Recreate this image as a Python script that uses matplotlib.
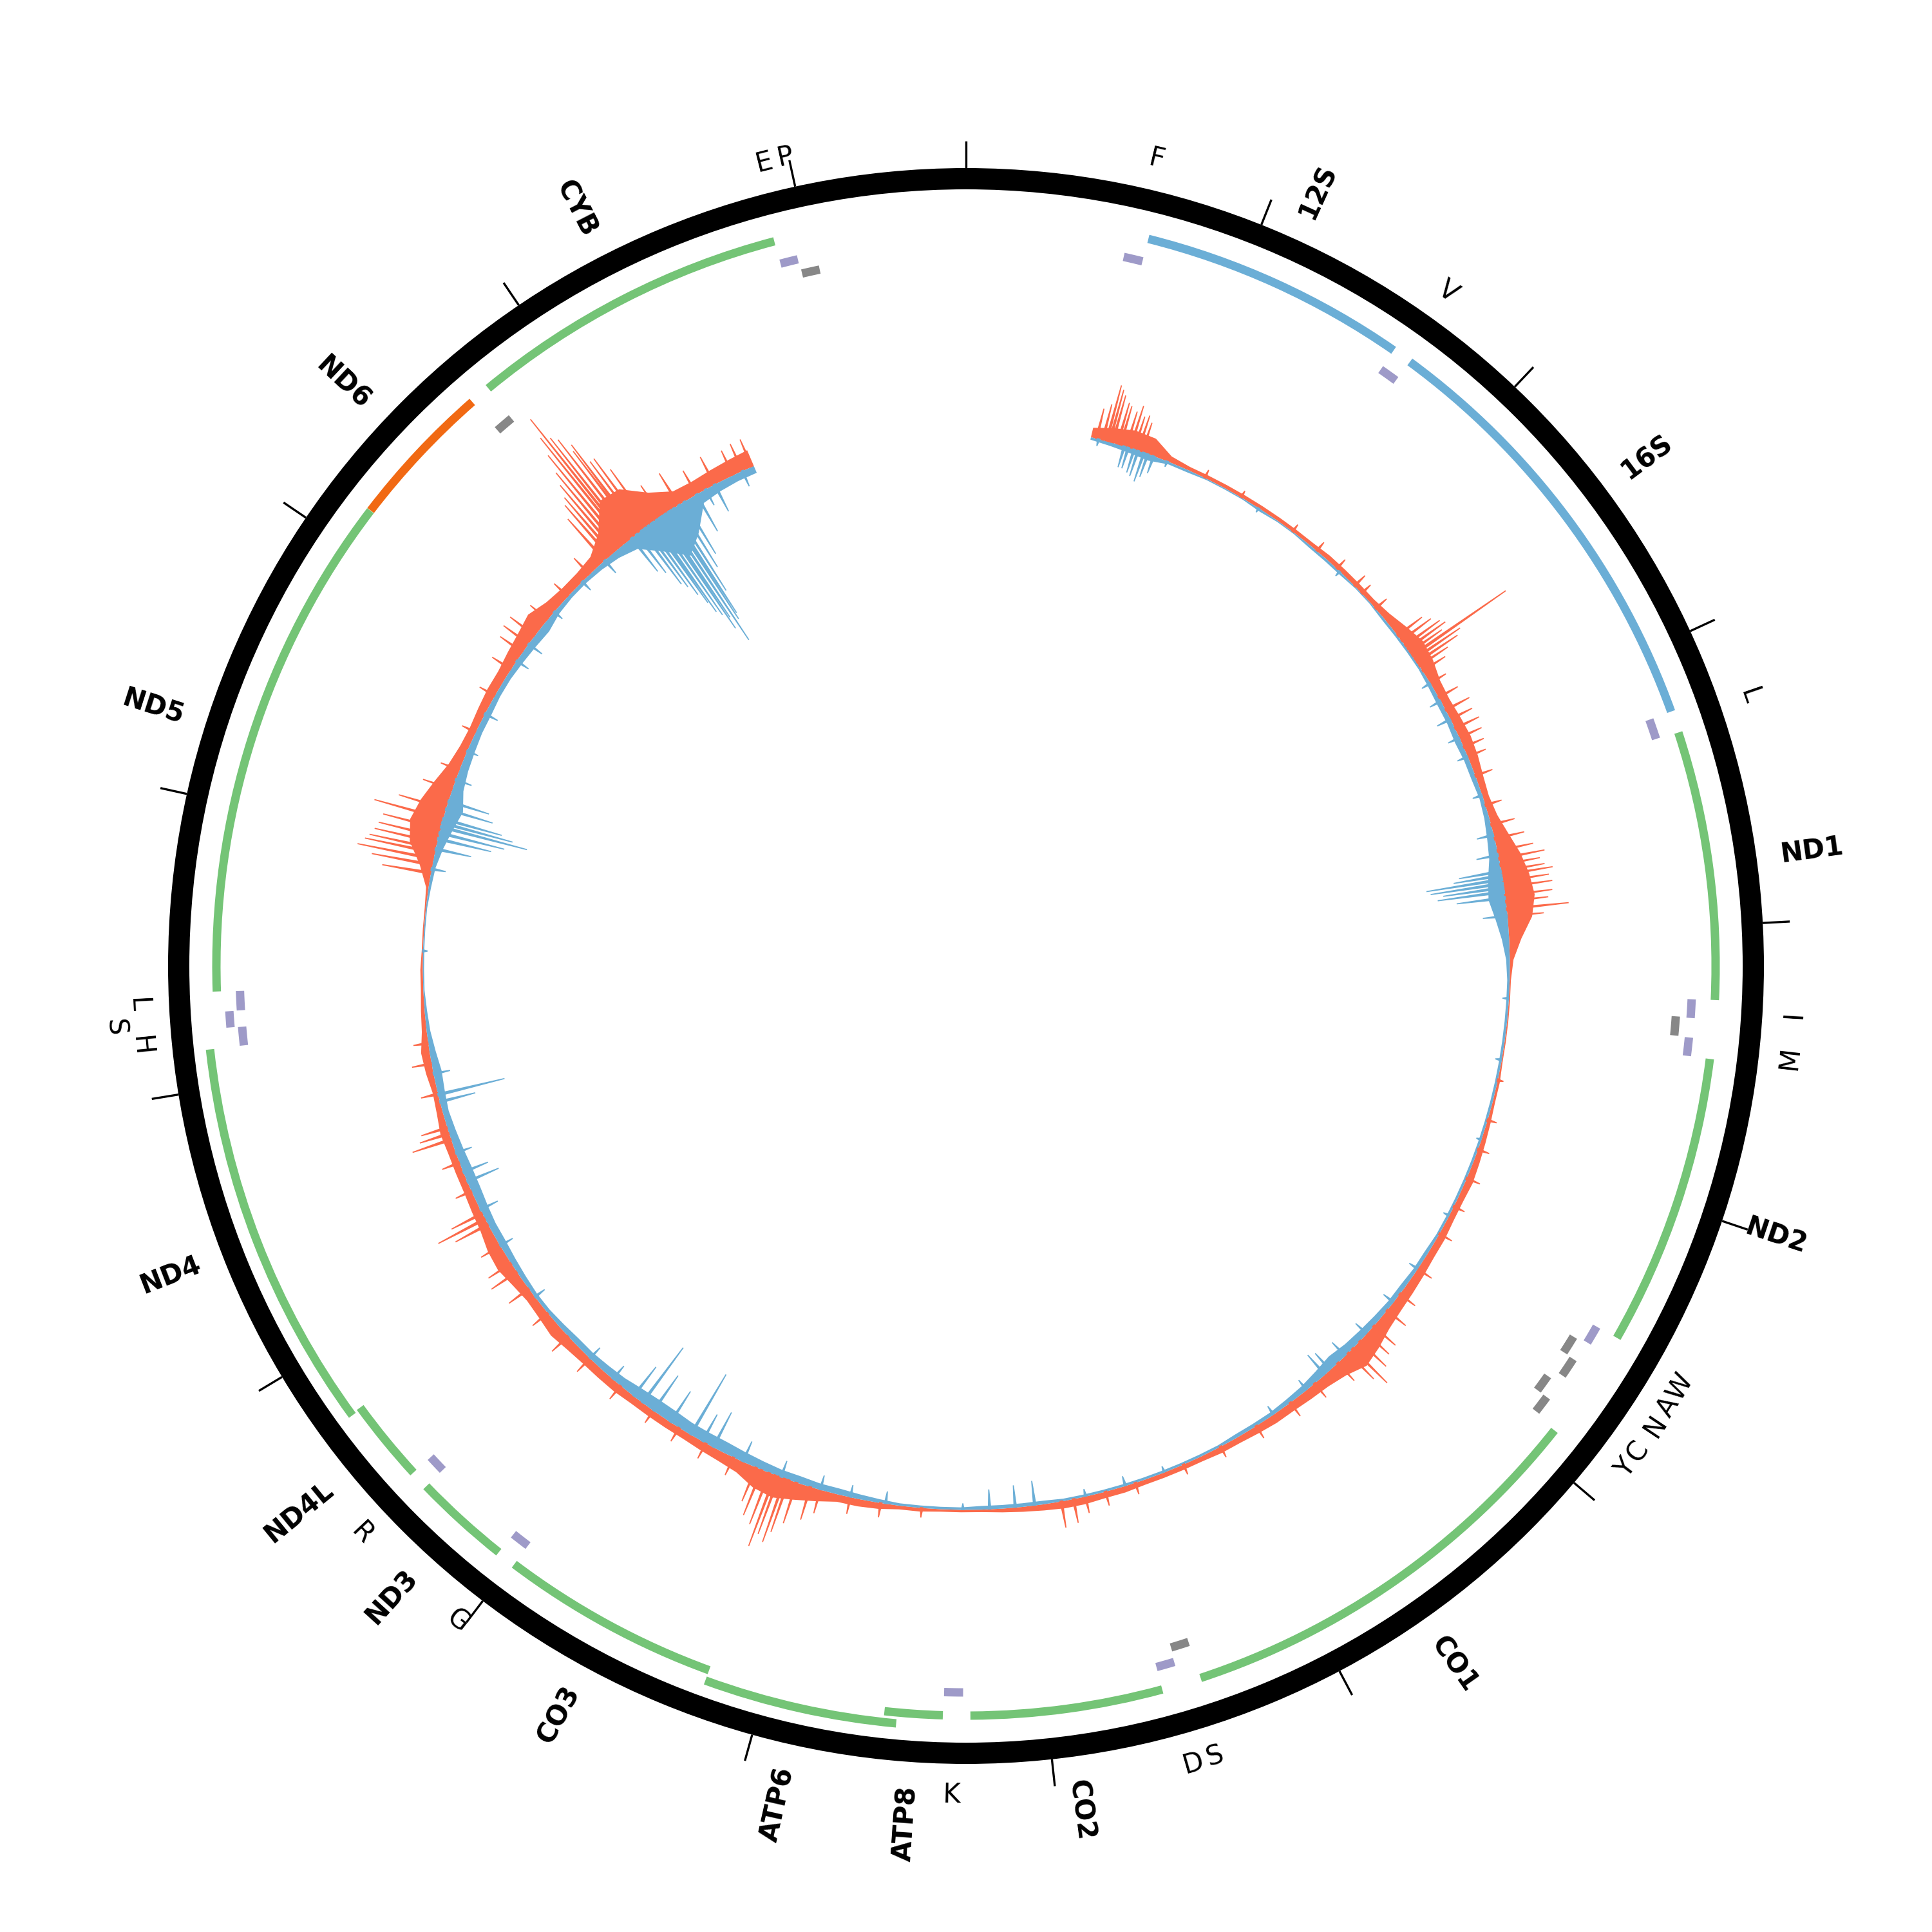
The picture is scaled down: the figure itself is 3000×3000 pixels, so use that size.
import numpy as np
import matplotlib
matplotlib.use("Agg")
import matplotlib.pyplot as plt

GENOME = 16569

# --- annotation (name, start, end, strand, kind, label) ---
feat_name = ["F", "12S", "V", "16S", "L", "ND1", "I", "Q", "M", "ND2", "W", "A", "N", "C", "Y",
             "CO1", "S", "D", "CO2", "K", "ATP8", "ATP6", "CO3", "G", "ND3", "R", "ND4L", "ND4",
             "H", "S", "L", "ND5", "ND6", "E", "CYB", "T", "P"]
feat_start = [577, 648, 1602, 1671, 3230, 3307, 4263, 4329, 4402, 4470, 5512, 5587, 5657, 5761, 5826,
              5904, 7446, 7518, 7586, 8295, 8366, 8527, 9207, 9991, 10059, 10405, 10470, 10760,
              12138, 12207, 12266, 12337, 14149, 14674, 14747, 15888, 15956]
feat_end = [647, 1601, 1670, 3229, 3304, 4262, 4331, 4400, 4469, 5511, 5579, 5655, 5729, 5826, 5891,
            7445, 7514, 7585, 8269, 8364, 8572, 9207, 9990, 10058, 10404, 10469, 10766, 12137,
            12206, 12265, 12336, 14148, 14673, 14742, 15887, 15953, 16023]
feat_strand = [1, 1, 1, 1, 1, 1, 1, -1, 1, 1, 1, -1, -1, -1, -1,
               1, -1, 1, 1, 1, 1, 1, 1, 1, 1, 1, 1, 1,
               1, 1, 1, 1, -1, -1, 1, 1, -1]
feat_kind = ["trna", "rrna", "trna", "rrna", "trna", "gene", "trna", "trna", "trna", "gene", "trna", "trna", "trna", "trna", "trna",
             "gene", "trna", "trna", "gene", "trna", "gene", "gene", "gene", "trna", "gene", "trna", "gene", "gene",
             "trna", "trna", "trna", "gene", "gene", "trna", "gene", "trna", "trna"]
feat_label = ["F", "12S", "V", "16S", "L", "ND1", "I", None, "M", "ND2", "W", "A", "N", "C", "Y",
              "CO1", "S", "D", "CO2", "K", "ATP8", "ATP6", "CO3", "G", "ND3", "R", "ND4L", "ND4",
              "H", "S", "L", "ND5", "ND6", None, "CYB", "E", "P"]

# --- coverage, 100 bp bins starting at 560 ---
bin_start = np.arange(560, 15560, 100)
fwd_cov = [8, 12, 15, 14, 5, 3, 3, 3, 3, 3,
           3, 3, 3, 4, 4, 4, 4, 6, 10, 14,
           12, 8, 7, 8, 9, 8, 6, 5, 7, 12,
           18, 22, 24, 20, 10, 3, 1, 1, 1, 1,
           1, 2, 2, 3, 4, 5, 6, 5, 5, 6,
           6, 7, 8, 9, 11, 15, 18, 12, 9, 8,
           7, 7, 6, 5, 5, 4, 4, 4, 4, 5,
           5, 6, 6, 5, 4, 3, 2, 2, 2, 3,
           3, 5, 6, 6, 10, 14, 18, 16, 10, 8,
           7, 6, 6, 6, 6, 7, 7, 7, 8, 10,
           8, 7, 9, 12, 11, 8, 7, 6, 6, 6,
           7, 5, 4, 6, 7, 4, 3, 2, 2, 1,
           1, 1, 2, 10, 22, 26, 22, 16, 10, 7,
           6, 7, 8, 8, 10, 12, 15, 10, 8, 8,
           10, 20, 40, 38, 22, 12, 11, 12, 13, 14]
rev_cov = [2, 3, 4, 5, 2, 2, 1, 1, 1, 2,
           1, 1, 2, 2, 2, 1, 1, 2, 2, 2,
           2, 3, 4, 4, 5, 4, 4, 3, 4, 6,
           8, 12, 14, 10, 6, 3, 2, 2, 2, 2,
           2, 2, 2, 2, 2, 2, 2, 2, 2, 2,
           3, 3, 4, 4, 5, 6, 7, 9, 7, 5,
           4, 3, 3, 3, 2, 2, 2, 2, 2, 2,
           2, 2, 2, 3, 3, 3, 3, 2, 2, 2,
           2, 3, 4, 5, 5, 6, 6, 7, 8, 9,
           9, 9, 10, 10, 9, 7, 6, 5, 5, 4,
           3, 3, 4, 5, 6, 6, 7, 8, 8, 7,
           6, 5, 6, 7, 5, 3, 2, 1, 1, 1,
           1, 1, 2, 3, 6, 10, 14, 9, 7, 6,
           5, 5, 4, 4, 5, 6, 7, 4, 3, 3,
           4, 6, 10, 25, 40, 28, 9, 7, 6, 6]

# single-base peaks
fwd_peak_pos = [640, 670, 690, 705, 720, 745, 760, 790, 810, 830, 850, 870,
                1200, 1400, 1700, 1850, 1980, 2100, 2150, 2250,
                2420, 2450, 2480, 2500, 2520, 2540, 2560, 2580, 2600, 2630,
                2700, 2780, 2850, 2900, 2950, 3000, 3050, 3100, 3200, 3350, 3450, 3520,
                3580, 3620, 3650, 3680, 3700, 3730, 3760, 3800, 3830, 3866, 3900,
                4700, 4900, 5050, 5200, 5350, 5500, 5700, 5850, 5950, 6050,
                6100, 6150, 6200, 6230, 6300, 6450, 6600, 6800, 7000, 7200, 7450,
                7600, 7700, 7760, 7820, 8500, 8700, 8850, 9000, 9050,
                9120, 9160, 9180, 9210, 9230, 9260, 9300, 9330,
                9450, 9600, 9750, 9900, 10100, 10300, 10450, 10600, 10750,
                10850, 10900, 11000, 11120, 11150, 11180, 11300, 11450,
                11570, 11600, 11630, 11800, 11950, 12050,
                12880, 12920, 12950, 12980, 13000, 13030, 13060, 13100, 13150, 13200,
                13300, 13400, 13600, 13800, 13950, 14050, 14100, 14150, 14250, 14400, 14550,
                14650, 14680, 14700, 14720, 14740, 14760, 14780, 14795, 14810,
                14830, 14850, 14860, 14880, 14900, 14930, 15000, 15100, 15200, 15300, 15400,
                15450, 15500]
fwd_peak_h = [25, 30, 47, 44, 40, 35, 33, 30, 36, 28, 30, 25,
              7, 6, 7, 9, 10, 12, 10, 12,
              25, 30, 35, 38, 32, 93, 45, 40, 28, 22,
              15, 18, 22, 20, 22, 20, 18, 16, 15, 14, 20, 25,
              30, 38, 33, 36, 42, 38, 40, 39, 35, 51, 30,
              5, 8, 10, 12, 10, 12, 14, 16, 20, 24,
              25, 30, 40, 30, 20, 15, 14, 12, 10, 9, 10,
              12, 14, 20, 22, 8, 12, 14, 20, 28,
              35, 45, 55, 50, 62, 45, 40, 30,
              16, 14, 13, 12, 14, 15, 18, 16, 20,
              25, 22, 18, 30, 43, 28, 14, 15,
              33, 25, 22, 14, 16, 12,
              40, 50, 63, 58, 55, 52, 50, 48, 58, 40,
              25, 16, 12, 14, 18, 22, 25, 25, 18, 15, 18,
              45, 55, 60, 70, 80, 95, 110, 127, 105,
              100, 85, 90, 70, 70, 55, 30, 30, 22, 25, 22,
              24, 24]
rev_peak_pos = [650, 780, 800, 830, 850, 880, 900, 930, 1000, 1500, 2000,
                2700, 2800, 2900, 3000, 3100, 3300, 3500, 3600,
                3680, 3700, 3720, 3740, 3760, 3780, 3810, 3900,
                4300, 4600, 5000, 5400, 5700, 5900, 6100, 6250,
                6350, 6384, 6500, 6700, 7300, 7500, 7700,
                7950, 8045, 8170, 8300, 8676, 8850, 9000, 9200, 9400,
                9560, 9620, 9685, 9800, 9900, 9966, 10020, 10150, 10300, 10700,
                11000, 11200, 11350, 11400, 11500, 11760, 11796, 11900, 12500, 12900,
                13000, 13050, 13080, 13110, 13130, 13150, 13200, 13240, 13350, 13500,
                13700, 14000, 14100, 14300, 14500, 14650,
                14820, 14850, 14880, 14900, 14920, 14940, 14950, 14970, 14990, 15000,
                15020, 15040, 15050, 15070, 15100, 15130, 15200, 15250, 15300, 15450]
rev_peak_h = [6, 18, 18, 20, 22, 25, 20, 15, 5, 4, 5,
              8, 10, 12, 10, 9, 8, 14, 18,
              35, 40, 63, 60, 50, 55, 40, 20,
              5, 5, 4, 5, 8, 10, 12, 15,
              18, 21, 10, 8, 5, 8, 6,
              20, 18, 16, 5, 10, 10, 12, 14, 18,
              32, 25, 57, 30, 35, 56, 30, 14, 12, 10,
              12, 16, 28, 22, 14, 30, 56, 14, 4, 12,
              30, 45, 55, 73, 60, 50, 40, 35, 14, 10,
              12, 12, 14, 9, 10, 14,
              35, 40, 55, 60, 70, 80, 90, 95, 110, 100,
              124, 105, 100, 80, 60, 50, 35, 15, 25, 14]

GREEN = "#74c476"
RRNA = "#6baed6"
ORANGE = "#f16913"
PURPLE = "#9e9ac8"
GRAY = "#878787"
RED = "#fb6a4a"
BLUE = "#6baed6"


def ang(bp):
    return np.asarray(bp) / GENOME * 2 * np.pi


def lanes(starts, ends, pad):
    # greedy stacking so overlapping features are pushed outward
    out, last = [], []
    for s, e in zip(starts, ends):
        for i, le in enumerate(last):
            if s > le + pad:
                last[i] = e
                out.append(i)
                break
        else:
            last.append(e)
            out.append(len(last) - 1)
    return out


fig = plt.figure(figsize=(10, 10), dpi=300)
ax = fig.add_axes([0, 0, 1, 1], projection="polar")
ax.set_theta_zero_location("N")
ax.set_theta_direction(-1)
ax.set_ylim(0, 1500)
ax.axis("off")

# outer ring + ticks
ax.bar(0, 33, width=2 * np.pi, bottom=1206, color="black", linewidth=0)
for t in range(0, GENOME, 1000):
    ax.plot([ang(t), ang(t)], [1239, 1281], color="black", lw=0.8, solid_capstyle="butt")

# feature tracks
idx_big = [i for i, k in enumerate(feat_kind) if k != "trna"]
big_lane = lanes([feat_start[i] for i in idx_big], [feat_end[i] for i in idx_big], 0)
for i, ln in zip(idx_big, big_lane):
    if feat_kind[i] == "rrna":
        c = RRNA
    else:
        c = GREEN if feat_strand[i] > 0 else ORANGE
    r = 1164 + 17 * ln
    ax.bar(ang(feat_start[i]), 13, width=ang(feat_end[i] - feat_start[i]), bottom=r - 6.5,
           align="edge", color=c, linewidth=0)

trna_lane = {}
for strand, base, col in [(1, 1128, PURPLE), (-1, 1105, GRAY)]:
    idx = [i for i, k in enumerate(feat_kind) if k == "trna" and feat_strand[i] == strand]
    ln = lanes([feat_start[i] for i in idx], [feat_end[i] for i in idx], 10)
    for i, l in zip(idx, ln):
        trna_lane[i] = l if strand > 0 else 0
        r = base + 18 * l
        ax.bar(ang(feat_start[i]), 13, width=ang(feat_end[i] - feat_start[i]), bottom=r - 6.5,
               align="edge", color=col, linewidth=0)

# labels
for i, lab in enumerate(feat_label):
    if lab is None:
        continue
    th = (feat_start[i] + feat_end[i]) / 2 / GENOME * 360
    if feat_kind[i] == "trna":
        rot = -th if (th < 90 or th > 270) else 180 - th
        ax.text(np.deg2rad(th), 1287 + 38 * trna_lane[i], lab, rotation=rot, rotation_mode="anchor",
                ha="center", va="center", fontsize=10)
    else:
        if th < 180:
            rot, ha = 90 - th, "left"
        else:
            rot, ha = 270 - th, "right"
        ax.text(np.deg2rad(th), 1276, lab, rotation=rot, rotation_mode="anchor",
                ha=ha, va="center", fontsize=10, fontweight="bold")

# coverage: forward outward (red), reverse inward (blue)
base_r = 844
scale = 1.9
th_c = ang(bin_start + 50)
fh = np.array(fwd_cov) * scale
rh = np.array(rev_cov) * scale
ax.fill_between(th_c, base_r, base_r + fh, color=RED, linewidth=0)
ax.fill_between(th_c, base_r - rh, base_r, color=BLUE, linewidth=0)
dw = ang(6)
for p, h in zip(fwd_peak_pos, fwd_peak_h):
    t = ang(p)
    ax.fill([t - dw, t, t + dw], [base_r, base_r + h * scale, base_r], color=RED, linewidth=0.4)
for p, h in zip(rev_peak_pos, rev_peak_h):
    t = ang(p)
    ax.fill([t - dw, t, t + dw], [base_r, base_r - h * scale, base_r], color=BLUE, linewidth=0.4)

fig.savefig("out.png", dpi=300, facecolor="white")
